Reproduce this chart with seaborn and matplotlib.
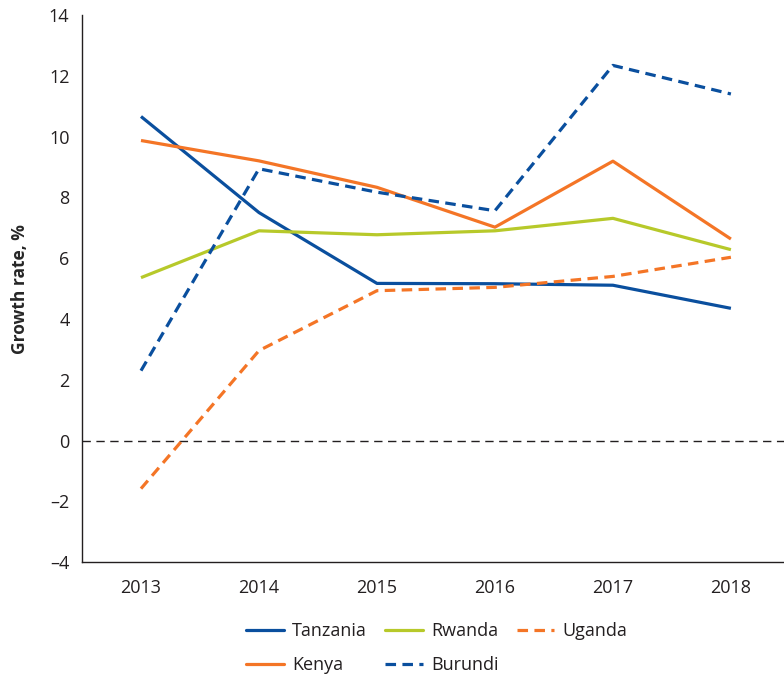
import matplotlib
matplotlib.use("Agg")
import matplotlib.pyplot as plt
from matplotlib.lines import Line2D
from matplotlib.ticker import FixedLocator
import seaborn as sns
import pandas as pd

years = ["2013", "2014", "2015", "2016", "2017", "2018"]
tanzania = [10.66, 7.5, 5.17, 5.16, 5.11, 4.35]
kenya = [9.87, 9.2, 8.33, 7.02, 9.19, 6.63]
rwanda = [5.36, 6.9, 6.77, 6.9, 7.31, 6.28]
uganda = [-1.58, 2.96, 4.93, 5.04, 5.4, 6.03]
burundi = [2.3, 8.94, 8.17, 7.56, 12.34, 11.4]

series = {"Tanzania": tanzania, "Kenya": kenya, "Rwanda": rwanda,
          "Burundi": burundi, "Uganda": uganda}

BLUE = "#0a4f9e"
ORANGE = "#f47526"
GREEN = "#b7c92a"
colors = {"Tanzania": BLUE, "Kenya": ORANGE, "Rwanda": GREEN,
          "Burundi": BLUE, "Uganda": ORANGE}
dash_pat = (3.3, 2.0)
dashes = {"Tanzania": "", "Kenya": "", "Rwanda": "",
          "Burundi": dash_pat, "Uganda": dash_pat}

rows = []
for name, vals in series.items():
    for i, v in enumerate(vals):
        rows.append({"country": name, "x": i, "value": v})
df = pd.DataFrame(rows)

sns.set_style("white")
plt.rcParams["font.family"] = ["Open Sans", "DejaVu Sans"]
plt.rcParams["text.color"] = "#231f20"

fig = plt.figure(figsize=(7.84, 6.79), dpi=100)
ax = fig.add_axes([0.1046, 0.172, 0.8954, 0.806])

ax.axhline(0, color="#231f20", lw=1.0, dashes=(6, 4), zorder=1)

sns.lineplot(data=df, x="x", y="value", hue="country", style="country",
             palette=colors, dashes=dashes, linewidth=2.3, ax=ax,
             legend=False, zorder=3)
for ln in ax.lines[1:]:
    ln.set_solid_capstyle("butt")
    ln.set_dash_capstyle("butt")

ax.set_xlim(-0.5, 5.45)
ax.set_ylim(-4, 14)
ax.set_yticks(range(-4, 15, 2))
ax.set_yticklabels([str(v).replace("-", "\u2013") for v in range(-4, 15, 2)])
ax.set_xticks(range(len(years)))
ax.set_xticklabels(years)
ax.xaxis.set_minor_locator(FixedLocator([i + 0.5 for i in range(-1, 6)]))

ax.tick_params(axis="x", which="major", length=0, pad=12, labelsize=13,
               colors="#231f20")
ax.tick_params(axis="x", which="minor", length=6, width=1, direction="out",
               colors="#231f20")
ax.tick_params(axis="y", length=6, width=1, direction="out", labelsize=13,
               colors="#231f20", pad=3)

for s in ["top", "right"]:
    ax.spines[s].set_visible(False)
for s in ["left", "bottom"]:
    ax.spines[s].set_color("#231f20")
    ax.spines[s].set_linewidth(1.0)

ax.set_xlabel("")
ax.set_ylabel("Growth rate, %", fontsize=12.5, fontweight="bold", labelpad=14)

handles = []
for name in ["Tanzania", "Kenya", "Rwanda", "Burundi", "Uganda"]:
    d = dashes[name]
    h = Line2D([], [], color=colors[name], lw=2.3, label=name)
    if d:
        h.set_dashes(d)
    handles.append(h)
fig.legend(handles=handles, loc="upper center", ncol=3,
           bbox_to_anchor=(0.557, 0.084), frameon=False, fontsize=13,
           handlelength=2.1, columnspacing=1.0, labelspacing=0.9,
           handletextpad=0.45, borderaxespad=0, borderpad=0)

fig.savefig("out.png", dpi=100)
